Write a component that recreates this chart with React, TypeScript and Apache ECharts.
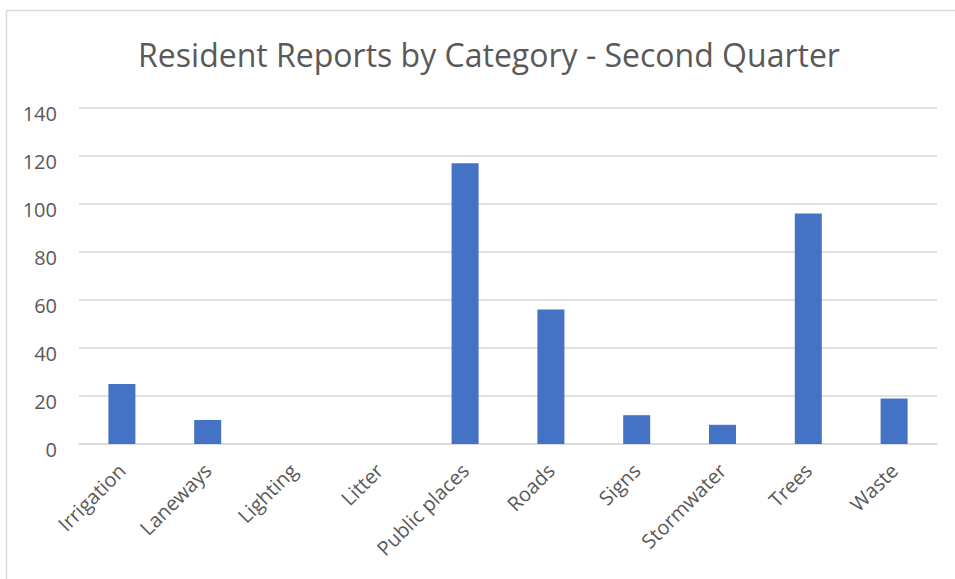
import React, { useEffect, useRef } from "react";
import * as echarts from "echarts";

const categories = ["Irrigation", "Laneways", "Lighting", "Litter", "Public places", "Roads", "Signs", "Stormwater", "Trees", "Waste"];
const reports = [25, 10, 0, 0, 117, 56, 12, 8, 96, 19];
const titleText = "Resident Reports by Category - Second Quarter";

const FONT = "'Open Sans', 'Noto Sans', sans-serif";

export default function App() {
  const ref = useRef<HTMLDivElement>(null);
  useEffect(() => {
    if (!ref.current) return;
    const chart = echarts.init(ref.current, undefined, { renderer: "svg" });
    chart.setOption({
      animation: false,
      backgroundColor: "#ffffff",
      title: {
        text: titleText,
        left: 484,
        textAlign: "center",
        top: 33,
        textStyle: { fontFamily: FONT, fontSize: 32, fontWeight: "normal", color: "#595959" },
      },
      graphic: [
        {
          type: "rect",
          shape: { x: 6.5, y: 10.5, width: 1000, height: 1000 },
          style: { fill: "none", stroke: "#d9d9d9", lineWidth: 1.5 },
          silent: true,
        },
      ],
      grid: { left: 79, right: 18, top: 108, bottom: 135, containLabel: false },
      xAxis: {
        type: "category",
        data: categories,
        axisLine: { show: true, lineStyle: { color: "#d9d9d9", width: 1.5 } },
        axisTick: { show: false },
        axisLabel: {
          rotate: 45,
          interval: 0,
          margin: 23,
          fontFamily: FONT,
          fontSize: 20,
          color: "#595959",
        },
      },
      yAxis: {
        type: "value",
        min: 0,
        max: 140,
        interval: 20,
        axisLine: { show: false },
        axisTick: { show: false },
        splitLine: { lineStyle: { color: "#d9d9d9", width: 1.5 } },
        axisLabel: {
          fontFamily: FONT,
          fontSize: 20,
          color: "#595959",
          margin: 22,
          verticalAlign: "top",
          lineHeight: 10,
        },
      },
      series: [
        {
          type: "bar",
          data: reports,
          barWidth: 27,
          itemStyle: { color: "#4472c4" },
        },
      ],
    });
    return () => chart.dispose();
  }, []);
  return <div ref={ref} style={{ width: 955, height: 579, position: "absolute", left: 0, top: 0 }} />;
}
